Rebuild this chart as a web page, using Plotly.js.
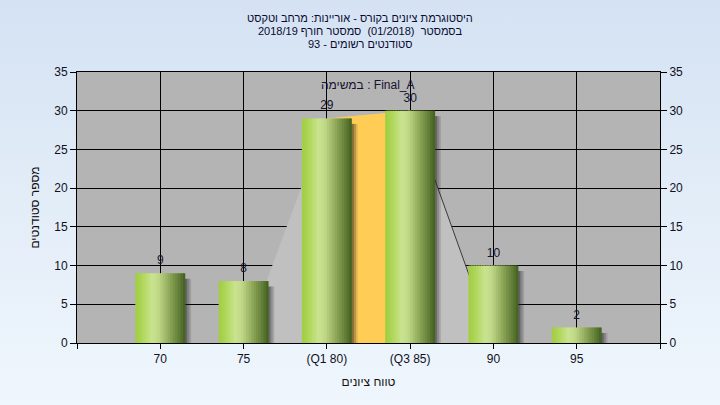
<!DOCTYPE html>
<html>
<head>
<meta charset="utf-8">
<script src="https://cdn.plot.ly/plotly-3.0.1.min.js"></script>
<style>
  html, body { margin: 0; padding: 0; }
  body { width: 720px; height: 405px; background: linear-gradient(to bottom, #d4e2f3 0%, #e3edf8 50%, #eff6fd 100%); overflow: hidden; }
  #chart { width: 720px; height: 405px; }
</style>
</head>
<body>
<div id="chart"></div>
<script>
// ---- data ----
const categories = ['70', '75', '(Q1 80)', '(Q3 85)', '90', '95'];
const counts = [9, 8, 29, 30, 10, 2];
// light-grey distribution envelope behind the bars
const envelopeCats = ['75', '(Q1 80)', '(Q3 85)', '90'];
const envelopeVals = [0, 29, 30, 0];
// orange inter-quartile band
const iqrCats = ['(Q1 80)', '(Q3 85)'];
const iqrVals = [29, 30];
// dark edge line on the right side of the envelope
const edgeCats = ['(Q3 85)', '90'];
const edgeVals = [30, 0];
const titleLines = [
  'היסטוגרמת ציונים בקורס - אוריינות: מרחב וטקסט',
  'בסמסטר  (01/2018)  סמסטר חורף 2018/19',
  'סטודנטים רשומים - 93'
];
const seriesLabel = 'במשימה : Final_A';
const xTitle = 'טווח ציונים';
const yTitle = 'מספר סטודנטים';

// ---- helpers ----
const pos = c => categories.indexOf(c);
const xIdx = categories.map((c, i) => i);
const RLM = '\u200F';
const FONT = '"Liberation Sans", "DejaVu Sans", Arial, sans-serif';

function hex2rgb(h) { return [1, 3, 5].map(i => parseInt(h.substr(i, 2), 16)); }
const gradStops = [
  [0.00, '#9fcd3f'], [0.15, '#b0d75c'], [0.33, '#c9e38f'], [0.45, '#c2da89'],
  [0.60, '#a1b96b'], [0.75, '#7e994c'], [0.90, '#5b7733'], [1.00, '#425e1e']
];
function gradColor(t) {
  for (let i = 0; i < gradStops.length - 1; i++) {
    const [t0, c0] = gradStops[i], [t1, c1] = gradStops[i + 1];
    if (t >= t0 && t <= t1) {
      const f = (t - t0) / (t1 - t0), a = hex2rgb(c0), b = hex2rgb(c1);
      return 'rgb(' + a.map((v, k) => Math.round(v + (b[k] - v) * f)).join(',') + ')';
    }
  }
  return gradStops[gradStops.length - 1][1];
}

const traces = [];
// envelope area (main subplot, below the bars)
traces.push({
  type: 'scatter', mode: 'lines', x: envelopeCats.map(pos), y: envelopeVals,
  fill: 'tozeroy', fillcolor: '#c0c0c0', line: { width: 0, color: '#c0c0c0' },
  hoverinfo: 'skip', showlegend: false
});
// IQR band
traces.push({
  type: 'scatter', mode: 'lines', x: iqrCats.map(pos), y: iqrVals,
  fill: 'tozeroy', fillcolor: '#ffcc55', line: { width: 0, color: '#ffcc55' },
  hoverinfo: 'skip', showlegend: false
});
// edge line
traces.push({
  type: 'scatter', mode: 'lines', x: edgeCats.map(pos), y: edgeVals,
  line: { width: 1, color: '#3a3a3a' }, hoverinfo: 'skip', showlegend: false
});

const BW = 0.6;
// shadows (overlay subplot, above the envelope)
[[0.29, 0.035, 'rgba(35,35,35,0.55)'], [0.325, 0.025, 'rgba(35,35,35,0.32)'], [0.35, 0.02, 'rgba(35,35,35,0.14)']]
  .forEach(([off, w, col]) => {
    traces.push({
      type: 'bar', x: xIdx, y: counts, base: -0.7, offset: off, width: w, yaxis: 'y2',
      marker: { color: col, line: { width: 0 } }, hoverinfo: 'skip', showlegend: false
    });
  });

// gradient bar slices
const N = 20;
const sw = BW / N;
for (let k = 0; k < N; k++) {
  traces.push({
    type: 'bar', x: xIdx, y: counts, yaxis: 'y2',
    offset: -BW / 2 + k * sw, width: (k === N - 1 ? sw : sw * 1.6),
    marker: { color: gradColor((k + 0.5) / N), line: { width: 0 } },
    hoverinfo: 'skip', showlegend: false
  });
}

// value labels
traces.push({
  type: 'scatter', mode: 'markers+text', x: xIdx, y: counts, text: counts.map(String),
  marker: { size: 8, color: 'rgba(0,0,0,0)' },
  textposition: 'top center', textfont: { family: FONT, size: 12, color: '#14142e' },
  yaxis: 'y2', hoverinfo: 'skip', showlegend: false, cliponaxis: false
});

const annotations = titleLines.map((t, i) => ({
  text: RLM + t + RLM, xref: 'paper', yref: 'paper', x: (360 - 77) / (660 - 77), y: 1,
  xanchor: 'center', yanchor: 'middle', yshift: 72 - 18 - i * 13, showarrow: false,
  font: { family: FONT, size: 11, color: '#0a0a30' }
}));
annotations.push({
  text: seriesLabel, xref: 'paper', yref: 'paper', x: (368 - 77) / (660 - 77), y: 1,
  xanchor: 'center', yanchor: 'middle', yshift: -(85 - 72), showarrow: false,
  font: { family: FONT, size: 12, color: '#1a1030' }
});

const layout = {
  width: 720, height: 405,
  margin: { l: 77, r: 60, t: 72, b: 62, pad: 0 },
  paper_bgcolor: 'rgba(0,0,0,0)', plot_bgcolor: '#b4b4b4',
  barmode: 'overlay', showlegend: false,
  font: { family: FONT, size: 12, color: '#101020' },
  xaxis: {
    range: [-1, 6], tickmode: 'array',
    tickvals: [-1].concat(xIdx, [categories.length]),
    ticktext: [''].concat(categories, ['']),
    showgrid: true, gridcolor: '#000000', gridwidth: 1,
    ticks: 'outside', ticklen: 5, tickcolor: '#000000', tickwidth: 1,
    showline: true, linecolor: '#000000', linewidth: 1, mirror: true,
    zeroline: false, fixedrange: true,
    tickfont: { family: FONT, size: 12, color: '#101020' },
    title: { text: xTitle, standoff: 12, font: { family: FONT, size: 12, color: '#101010' } }
  },
  yaxis: {
    range: [0, 35], dtick: 5, tick0: 0,
    showgrid: true, gridcolor: '#000000', gridwidth: 1,
    ticks: 'outside', ticklen: 6, tickcolor: '#000000', tickwidth: 1,
    showline: true, linecolor: '#000000', linewidth: 1, mirror: true,
    zeroline: false, fixedrange: true,
    tickfont: { family: FONT, size: 12, color: '#101020' },
    title: { text: yTitle, standoff: 12, font: { family: FONT, size: 12, color: '#101010' } }
  },
  yaxis2: {
    overlaying: 'y', side: 'right', range: [0, 35], dtick: 5, tick0: 0,
    showgrid: false, zeroline: false,
    ticks: 'outside', ticklen: 6, tickcolor: '#000000', tickwidth: 1,
    showline: true, linecolor: '#000000', linewidth: 1, fixedrange: true,
    tickfont: { family: FONT, size: 12, color: '#101020' }
  },
  annotations: annotations
};

Plotly.newPlot('chart', traces, layout, { displayModeBar: false, staticPlot: true });
</script>
</body>
</html>
